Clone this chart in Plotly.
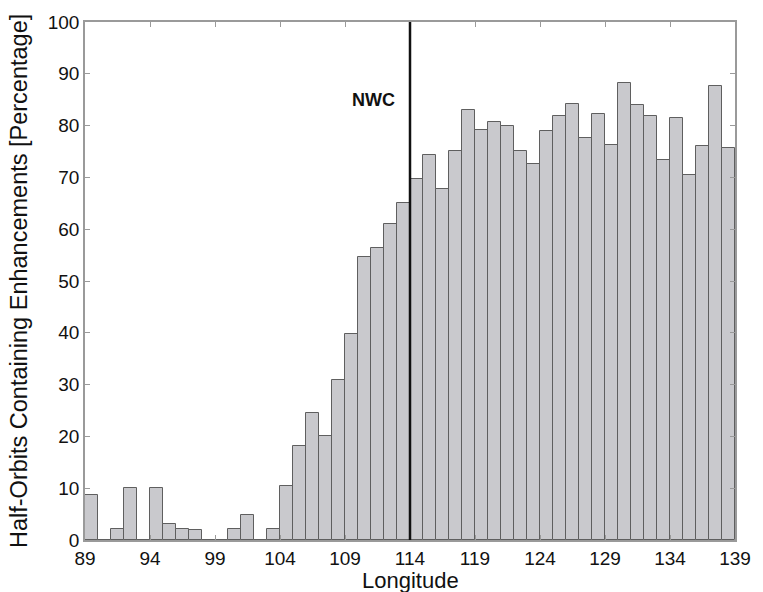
import plotly.graph_objects as go

longitude = list(range(89, 139))
percentage = [8.6, 0, 2.2, 10.0, 0, 10.0, 3.1, 2.2, 2.0, 0,
              0, 2.1, 4.9, 0, 2.1, 10.4, 18.2, 24.5, 20.0, 30.9,
              39.7, 54.6, 56.3, 61.0, 65.0, 69.6, 74.4, 67.7, 75.1, 83.1,
              79.1, 80.6, 80.0, 75.1, 72.6, 78.9, 81.8, 84.1, 77.7, 82.2,
              76.3, 88.3, 83.9, 81.8, 73.4, 81.5, 70.5, 76.1, 87.6, 75.7]
x_ticks = list(range(89, 140, 5))
y_ticks = list(range(0, 101, 10))
nwc_lon = 114
nwc_label = "NWC"

FONT = "Liberation Sans, Arial, sans-serif"

fig = go.Figure()
fig.add_trace(go.Bar(
    x=longitude, y=percentage, width=1, offset=0,
    marker=dict(color="#c9c9cd", line=dict(color="#5f5f5f", width=1)),
))

fig.add_shape(type="line", x0=nwc_lon, x1=nwc_lon, y0=0, y1=100,
              xref="x", yref="y", line=dict(color="#111111", width=2.5))

fig.add_annotation(x=nwc_lon - 1.0, y=85, text="<b>%s</b>" % nwc_label,
                   showarrow=False, xanchor="right", yanchor="middle",
                   font=dict(family=FONT, size=18, color="#111"))

fig.add_annotation(xref="paper", yref="paper", x=0, y=0.5, xshift=-66,
                   text="Half-Orbits Containing Enhancements [Percentage]",
                   textangle=-90, showarrow=False, xanchor="center", yanchor="middle",
                   font=dict(family=FONT, size=23.5, color="#111"))
fig.add_annotation(xref="paper", yref="paper", x=0.5, y=0, yshift=-40,
                   text="Longitude", showarrow=False, xanchor="center", yanchor="middle",
                   font=dict(family=FONT, size=22, color="#111"))

axis_common = dict(showgrid=False, zeroline=False, showline=True, linecolor="#9a9a9a",
                   linewidth=1.5, mirror="ticks", ticks="inside", ticklen=5,
                   tickcolor="#9a9a9a", tickfont=dict(family=FONT, size=19, color="#111"))

fig.update_xaxes(range=[89, 139], tickvals=x_ticks, **axis_common)
fig.update_yaxes(range=[0, 100], tickvals=y_ticks, **axis_common)

fig.update_layout(
    width=763, height=592,
    margin=dict(l=85, r=20, t=21, b=52),
    plot_bgcolor="white", paper_bgcolor="white",
    showlegend=False, bargap=0,
)

fig.write_html("out.html", config={"displayModeBar": False},
               post_script="document.body.style.margin='0px';document.body.style.overflow='hidden';")
